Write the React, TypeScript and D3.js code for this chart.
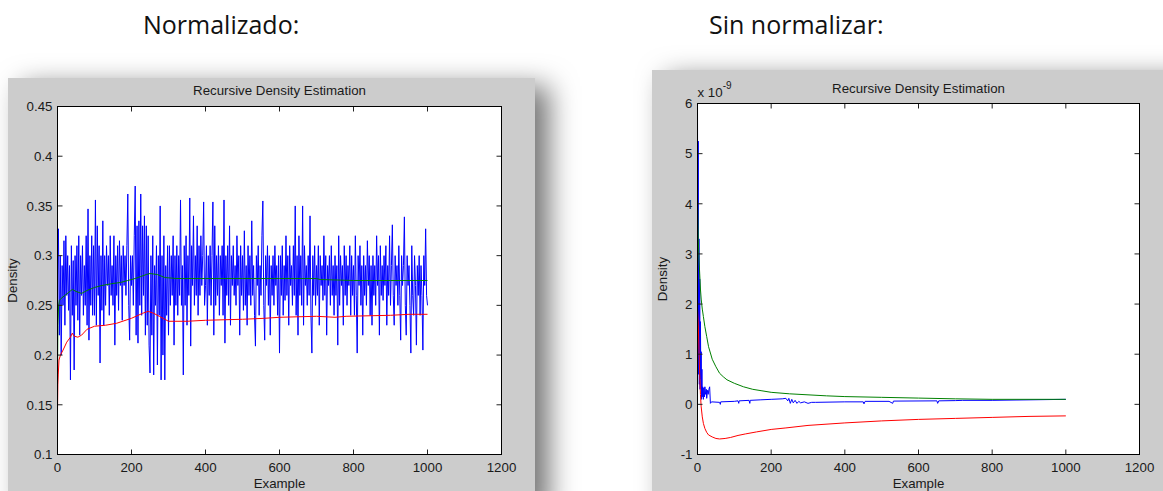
import React from 'react';
import * as d3 from 'd3';

type Pt = [number, number];

const HEADERS = ['Normalizado:', 'Sin normalizar:'];
const TITLE = 'Recursive Density Estimation';
const X_LABEL = 'Example';
const Y_LABEL = 'Density';

const X_TICKS = [0, 200, 400, 600, 800, 1000, 1200];
const NORM_Y_TICKS = [0.1, 0.15, 0.2, 0.25, 0.3, 0.35, 0.4, 0.45];
const NORM_Y_LABELS = ['0.1', '0.15', '0.2', '0.25', '0.3', '0.35', '0.4', '0.45'];
const RAW_Y_TICKS = [-1, 0, 1, 2, 3, 4, 5, 6];
const RAW_Y_LABELS = ['-1', '0', '1', '2', '3', '4', '5', '6'];
const RAW_EXP_BASE = 'x 10';
const RAW_EXP = '-9';

// Normalised: blue density, one reading every 2.5 examples
const NORM_BLUE_STEP = 2.5;
const NORM_BLUE = [
  0.285, 0.327, 0.22, 0.30, 0.20, 0.29, 0.25, 0.315, 0.23, 0.32, 0.26, 0.30, 0.245, 0.29, 0.175, 0.31, 0.24, 0.295, 0.185, 0.30,
  0.25, 0.31, 0.235, 0.32, 0.22, 0.30, 0.26, 0.31, 0.24, 0.29, 0.25, 0.32, 0.23, 0.347, 0.215, 0.30, 0.25, 0.32, 0.24, 0.31,
  0.24, 0.356, 0.23, 0.33, 0.26, 0.31, 0.192, 0.30, 0.245, 0.335, 0.23, 0.30, 0.25, 0.31, 0.27, 0.30, 0.24, 0.32, 0.26, 0.29,
  0.25, 0.32, 0.21, 0.30, 0.26, 0.31, 0.245, 0.315, 0.27, 0.30, 0.235, 0.31, 0.27, 0.30, 0.26, 0.31, 0.362, 0.25, 0.215, 0.30,
  0.27, 0.30, 0.25, 0.32, 0.37, 0.22, 0.33, 0.212, 0.335, 0.25, 0.362, 0.24, 0.33, 0.26, 0.34, 0.22, 0.33, 0.23, 0.32, 0.21,
  0.182, 0.30, 0.22, 0.32, 0.18, 0.29, 0.25, 0.31, 0.19, 0.30, 0.24, 0.35, 0.175, 0.30, 0.20, 0.32, 0.175, 0.29, 0.24, 0.31,
  0.22, 0.31, 0.25, 0.30, 0.26, 0.32, 0.21, 0.30, 0.25, 0.31, 0.24, 0.30, 0.26, 0.356, 0.25, 0.29, 0.18, 0.31, 0.25, 0.32,
  0.23, 0.30, 0.26, 0.358, 0.209, 0.31, 0.27, 0.34, 0.25, 0.30, 0.26, 0.33, 0.24, 0.31, 0.26, 0.32, 0.27, 0.30, 0.354, 0.25,
  0.27, 0.31, 0.23, 0.30, 0.26, 0.31, 0.25, 0.30, 0.354, 0.22, 0.33, 0.25, 0.30, 0.26, 0.31, 0.24, 0.30, 0.27, 0.31, 0.24,
  0.356, 0.212, 0.30, 0.26, 0.31, 0.25, 0.33, 0.23, 0.30, 0.27, 0.31, 0.26, 0.29, 0.25, 0.32, 0.27, 0.30, 0.22, 0.31, 0.26,
  0.30, 0.245, 0.325, 0.25, 0.29, 0.23, 0.31, 0.26, 0.30, 0.25, 0.335, 0.26, 0.29, 0.24, 0.209, 0.30, 0.27, 0.31, 0.24, 0.29,
  0.26, 0.32, 0.355, 0.25, 0.215, 0.30, 0.27, 0.31, 0.25, 0.30, 0.22, 0.29, 0.26, 0.30, 0.25, 0.31, 0.27, 0.29, 0.24, 0.30,
  0.202, 0.30, 0.26, 0.31, 0.24, 0.29, 0.255, 0.32, 0.26, 0.30, 0.23, 0.31, 0.27, 0.29, 0.25, 0.31, 0.26, 0.35, 0.24, 0.30,
  0.22, 0.32, 0.26, 0.30, 0.25, 0.35, 0.23, 0.31, 0.27, 0.29, 0.25, 0.30, 0.26, 0.34, 0.24, 0.202, 0.30, 0.26, 0.31, 0.25,
  0.29, 0.26, 0.31, 0.23, 0.30, 0.27, 0.29, 0.255, 0.32, 0.26, 0.30, 0.22, 0.29, 0.27, 0.30, 0.25, 0.31, 0.26, 0.29, 0.24,
  0.30, 0.26, 0.29, 0.21, 0.32, 0.25, 0.30, 0.27, 0.29, 0.23, 0.31, 0.26, 0.30, 0.25, 0.29, 0.27, 0.31, 0.24, 0.30, 0.26,
  0.29, 0.24, 0.32, 0.26, 0.202, 0.30, 0.27, 0.31, 0.25, 0.29, 0.22, 0.30, 0.26, 0.29, 0.25, 0.315, 0.27, 0.30, 0.24, 0.29,
  0.23, 0.30, 0.26, 0.29, 0.25, 0.32, 0.27, 0.30, 0.22, 0.31, 0.26, 0.29, 0.255, 0.30, 0.27, 0.31, 0.23, 0.29, 0.26, 0.32,
  0.25, 0.29, 0.331, 0.26, 0.23, 0.30, 0.27, 0.29, 0.25, 0.31, 0.26, 0.215, 0.30, 0.27, 0.29, 0.339, 0.25, 0.22, 0.30, 0.27,
  0.29, 0.25, 0.202, 0.31, 0.26, 0.24, 0.30, 0.27, 0.21, 0.29, 0.26, 0.30, 0.24, 0.29, 0.26, 0.205, 0.30, 0.27, 0.327, 0.26,
  0.25,
];

const NORM_GREEN: Pt[] = [
  [0, 0.17], [1, 0.23], [3, 0.25], [5, 0.255], [10, 0.257], [20, 0.26], [30, 0.263],
  [40, 0.266], [50, 0.264], [65, 0.262], [80, 0.265], [100, 0.268], [120, 0.27],
  [150, 0.272], [170, 0.273], [190, 0.275], [210, 0.277], [225, 0.279], [240, 0.281],
  [250, 0.282], [270, 0.281], [290, 0.278], [320, 0.277], [400, 0.277], [500, 0.277],
  [600, 0.277], [700, 0.277], [710, 0.276], [800, 0.275], [900, 0.275], [1000, 0.275],
];

const NORM_RED: Pt[] = [
  [0, 0.143], [1, 0.17], [2, 0.18], [4, 0.195], [8, 0.2], [15, 0.205], [25, 0.213],
  [35, 0.218], [40, 0.222], [45, 0.219], [55, 0.218], [65, 0.22], [80, 0.226],
  [100, 0.229], [130, 0.23], [160, 0.232], [200, 0.237], [230, 0.242], [245, 0.244],
  [260, 0.242], [275, 0.239], [290, 0.236], [300, 0.234], [350, 0.234], [400, 0.235],
  [500, 0.236], [560, 0.237], [600, 0.238], [700, 0.239], [750, 0.238], [780, 0.239],
  [900, 0.24], [950, 0.241], [1000, 0.241],
];

// Raw (x 1e-9)
const RAW_BLUE: Pt[] = [
  [0, 6.0], [1, 0.9], [2, 5.25], [3, 0.6], [4, 3.3], [5, 0.4], [6, 2.5], [7, 0.3],
  [8, 1.65], [9, 0.5], [10, 1.05], [11, 0.1], [12, 0.7], [13, 0.15], [14, 0.35],
  [16, 0.1], [17, 0.33], [19, 0.15], [20, 0.35], [22, 0.2], [24, 0.3], [25, 0.12],
  [27, 0.28], [29, 0.2], [31, 0.3], [33, 0.35], [35, 0.02], [38, 0.05], [60, 0.04],
  [62, 0.0], [63, 0.05], [100, 0.06], [110, 0.07], [112, 0.02], [113, 0.07],
  [140, 0.08], [142, 0.02], [143, 0.08], [170, 0.09], [200, 0.1], [230, 0.11],
  [240, 0.12], [245, 0.07], [248, 0.12], [252, 0.02], [256, 0.1], [260, 0.03],
  [265, 0.08], [270, 0.02], [275, 0.06], [280, 0.03], [290, 0.05], [300, 0.02],
  [310, 0.04], [320, 0.04], [400, 0.05], [450, 0.05], [452, 0.01], [455, 0.06],
  [520, 0.06], [530, 0.02], [532, 0.065], [650, 0.07], [652, 0.02], [655, 0.07],
  [700, 0.075], [720, 0.08], [800, 0.08], [900, 0.09], [1000, 0.1],
];

const RAW_GREEN: Pt[] = [
  [0, 4.1], [2, 3.3], [4, 2.9], [6, 2.6], [8, 2.3], [10, 2.1], [13, 1.9], [16, 1.75],
  [20, 1.55], [25, 1.35], [30, 1.15], [40, 0.9], [50, 0.75], [60, 0.62], [70, 0.55],
  [80, 0.49], [100, 0.42], [125, 0.35], [150, 0.3], [175, 0.27], [200, 0.24],
  [250, 0.21], [300, 0.19], [350, 0.17], [400, 0.155], [500, 0.14], [600, 0.125],
  [700, 0.11], [800, 0.1], [900, 0.1], [1000, 0.1],
];

const RAW_RED: Pt[] = [
  [0, 1.9], [2, 1.6], [4, 1.1], [6, 0.6], [8, 0.2], [10, -0.05], [13, -0.25],
  [16, -0.38], [20, -0.48], [25, -0.56], [30, -0.61], [40, -0.65], [50, -0.68],
  [60, -0.69], [75, -0.68], [90, -0.66], [110, -0.62], [130, -0.59], [160, -0.55],
  [200, -0.5], [240, -0.47], [300, -0.42], [400, -0.37], [500, -0.33], [600, -0.3],
  [700, -0.28], [800, -0.26], [900, -0.24], [1000, -0.23],
];

const COLORS = { blue: '#0000ff', green: '#008000', red: '#ff0000' };
const FONT = '"Liberation Sans", Arial, sans-serif';

interface Box { l: number; t: number; r: number; b: number }
interface PlotProps {
  id: string;
  panel: { x: number; y: number; w: number; h: number };
  axes: Box;
  yDomain: [number, number];
  yTicks: number[];
  yLabels: string[];
  series: { data: Pt[]; color: string }[];
  yLabelX: number;
  titleY: number;
  exponent?: boolean;
}

function Plot(p: PlotProps) {
  const { axes } = p;
  const x = d3.scaleLinear().domain([0, 1200]).range([axes.l, axes.r]);
  const y = d3.scaleLinear().domain(p.yDomain).range([axes.b, axes.t]);
  const line = d3.line<Pt>().x((d) => x(d[0])).y((d) => y(d[1]));
  const cx = (axes.l + axes.r) / 2;
  const tk = 5;
  return (
    <g>
      <rect x={p.panel.x} y={p.panel.y} width={p.panel.w} height={p.panel.h} fill="#cccccc" filter="url(#shadow)" />
      <defs>
        <clipPath id={`clip-${p.id}`}>
          <rect x={axes.l} y={axes.t - 1} width={axes.r - axes.l} height={axes.b - axes.t + 2} />
        </clipPath>
      </defs>
      <rect x={axes.l} y={axes.t} width={axes.r - axes.l} height={axes.b - axes.t} fill="#ffffff" />
      <g clipPath={`url(#clip-${p.id})`}>
        {p.series.map((s, i) => (
          <path key={i} d={line(s.data) || ''} fill="none" stroke={s.color} strokeWidth={1} />
        ))}
      </g>
      <g stroke="#222" strokeWidth={1}>
        {X_TICKS.map((t) => (
          <g key={t}>
            <line x1={x(t)} x2={x(t)} y1={axes.b} y2={axes.b - tk} />
            <line x1={x(t)} x2={x(t)} y1={axes.t} y2={axes.t + tk} />
          </g>
        ))}
        {p.yTicks.map((t) => (
          <g key={t}>
            <line x1={axes.l} x2={axes.l + tk} y1={y(t)} y2={y(t)} />
            <line x1={axes.r} x2={axes.r - tk} y1={y(t)} y2={y(t)} />
          </g>
        ))}
      </g>
      <rect x={axes.l} y={axes.t} width={axes.r - axes.l} height={axes.b - axes.t} fill="none" stroke="#000" strokeWidth={1} />
      <g fontFamily={FONT} fontSize={13.3} fill="#1a1a1a">
        {X_TICKS.map((t) => (
          <text key={t} x={x(t)} y={472} textAnchor="middle">{t}</text>
        ))}
        {p.yTicks.map((t, i) => (
          <text key={t} x={axes.l - 5} y={y(t)} dy="0.36em" textAnchor="end">{p.yLabels[i]}</text>
        ))}
        <text x={cx} y={p.titleY} textAnchor="middle">{TITLE}</text>
        <text x={cx} y={488} textAnchor="middle">{X_LABEL}</text>
        <text transform={`translate(${p.yLabelX},${(axes.t + axes.b) / 2}) rotate(-90)`} textAnchor="middle">{Y_LABEL}</text>
        {p.exponent && (
          <text x={axes.l} y={96.5}>
            {RAW_EXP_BASE}
            <tspan fontSize={10} dy={-8}>{RAW_EXP}</tspan>
          </text>
        )}
      </g>
    </g>
  );
}

export default function App() {
  const normBlue: Pt[] = NORM_BLUE.map((v, i) => [i * NORM_BLUE_STEP, v]);
  return (
    <svg width={1163} height={491} style={{ position: 'absolute', left: 0, top: 0, background: '#ffffff' }}>
      <defs>
        <filter id="shadow" x="-30%" y="-30%" width="160%" height="160%">
          <feDropShadow dx={14} dy={8} stdDeviation={14} floodColor="#000" floodOpacity={0.55} />
        </filter>
      </defs>
      <rect x={0} y={0} width={1163} height={491} fill="#fff" />
      <g fontFamily='"Open Sans", "Noto Sans", sans-serif' fontSize={25} fill="#111">
        <text x={143} y={34}>{HEADERS[0]}</text>
        <text x={709} y={34}>{HEADERS[1]}</text>
      </g>
      <Plot
        id="norm"
        panel={{ x: 8, y: 78, w: 527, h: 430 }}
        axes={{ l: 57.5, t: 106.5, r: 501.5, b: 454.5 }}
        yDomain={[0.1, 0.45]}
        yTicks={NORM_Y_TICKS}
        yLabels={NORM_Y_LABELS}
        yLabelX={17}
        titleY={95}
        series={[
          { data: normBlue, color: COLORS.blue },
          { data: NORM_GREEN, color: COLORS.green },
          { data: NORM_RED, color: COLORS.red },
        ]}
      />
      <Plot
        id="raw"
        panel={{ x: 652, y: 70, w: 540, h: 440 }}
        axes={{ l: 697.5, t: 103.5, r: 1139.5, b: 454.5 }}
        yDomain={[-1, 6]}
        yTicks={RAW_Y_TICKS}
        yLabels={RAW_Y_LABELS}
        yLabelX={667}
        titleY={93}
        exponent
        series={[
          { data: RAW_BLUE, color: COLORS.blue },
          { data: RAW_GREEN, color: COLORS.green },
          { data: RAW_RED, color: COLORS.red },
        ]}
      />
    </svg>
  );
}
